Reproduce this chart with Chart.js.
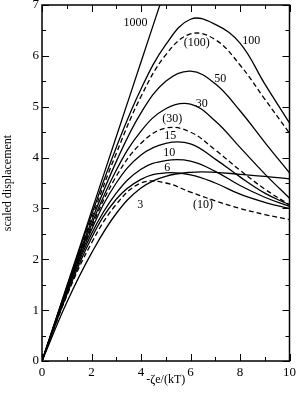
<!DOCTYPE html>
<html>
<head>
<meta charset="utf-8">
<script src="https://cdn.jsdelivr.net/npm/chart.js@4.4.1/dist/chart.umd.min.js"></script>
<style>
  html, body { margin: 0; padding: 0; background: #fff; }
  #wrap { width: 300px; height: 397px; }
</style>
</head>
<body>
<div id="wrap"><canvas id="chart" width="300" height="397"></canvas></div>
<script>
// x axis: -ζe/(kT)
const xs = [0, 1, 2, 3, 4, 5, 6, 7, 8, 9, 10];

// scaled displacement for each curve (solid = full, dashed = in parentheses)
const k1000 = [0, 1.47, 2.94, 4.41, 5.88, 7.35];
const k100 = [0, 1.45, 2.87, 4.2, 5.35, 6.22, 6.72, 6.62, 6.25, 5.45, 4.68];
const k100d = [0, 1.43, 2.8, 4.08, 5.2, 6.02, 6.43, 6.32, 5.82, 5.15, 4.48];
const k50 = [0, 1.42, 2.75, 3.92, 4.88, 5.5, 5.7, 5.45, 4.92, 4.3, 3.7];
const k30 = [0, 1.4, 2.68, 3.75, 4.52, 4.96, 5.05, 4.72, 4.2, 3.68, 3.2];
const k30d = [0, 1.39, 2.63, 3.63, 4.28, 4.58, 4.5, 4.15, 3.75, 3.38, 3.07];
const k15 = [0, 1.37, 2.58, 3.5, 4.05, 4.28, 4.27, 3.97, 3.62, 3.3, 3.07];
const k10 = [0, 1.34, 2.5, 3.3, 3.77, 3.94, 3.93, 3.73, 3.45, 3.22, 3.04];
const k6 = [0, 1.3, 2.42, 3.18, 3.57, 3.7, 3.66, 3.5, 3.28, 3.12, 3.0];
const k10d = [0, 1.28, 2.32, 3.08, 3.5, 3.5, 3.32, 3.15, 3.0, 2.88, 2.78];
const k3 = [0, 1.15, 2.12, 2.9, 3.4, 3.63, 3.71, 3.71, 3.67, 3.63, 3.58];

// curve labels and where they sit (data coords)
const labelText = ['1000', '100', '(100)', '50', '30', '(30)', '15', '10', '6', '3', '(10)'];
const labelX = [3.78, 8.45, 6.25, 7.2, 6.45, 5.26, 5.18, 5.14, 5.06, 3.97, 6.5];
const labelY = [6.65, 6.29, 6.25, 5.54, 5.05, 4.76, 4.42, 4.09, 3.79, 3.07, 3.07];

function pts(ys) {
    return ys.map((y, i) => ({ x: xs[i], y: y }));
}

function curve(ys, dashed) {
    return {
        data: pts(ys),
        borderColor: '#000',
        borderWidth: 1.3,
        borderDash: dashed ? [5, 3] : [],
        pointRadius: 0,
        tension: 0.4,
        fill: false
    };
}

const serif = "'Liberation Serif', 'DejaVu Serif', serif";

// frame, inward ticks on all four sides, and curve labels
const decor = {
    id: 'decor',
    afterDatasetsDraw(chart) {
        const ctx = chart.ctx;
        const a = chart.chartArea;
        const sx = chart.scales.x;
        const sy = chart.scales.y;
        ctx.save();
        ctx.strokeStyle = '#000';
        ctx.lineWidth = 1;
        ctx.beginPath();
        for (let v = 0; v <= 10; v += 1) {
            const px = Math.round(sx.getPixelForValue(v)) + 0.5;
            const len = v % 2 === 0 ? 7 : 4;
            ctx.moveTo(px, a.bottom); ctx.lineTo(px, a.bottom - len);
            ctx.moveTo(px, a.top); ctx.lineTo(px, a.top + len);
        }
        for (let v = 0; v <= 7; v += 0.5) {
            const py = Math.round(sy.getPixelForValue(v)) + 0.5;
            const len = v % 1 === 0 ? 7 : 4;
            ctx.moveTo(a.left, py); ctx.lineTo(a.left + len, py);
            ctx.moveTo(a.right, py); ctx.lineTo(a.right - len, py);
        }
        ctx.stroke();
        ctx.lineWidth = 1.5;
        ctx.strokeRect(a.left, a.top, a.right - a.left, a.bottom - a.top);

        ctx.fillStyle = '#000';
        ctx.font = '12px ' + serif;
        ctx.textAlign = 'center';
        ctx.textBaseline = 'middle';
        labelText.forEach((t, i) => {
            ctx.fillText(t, sx.getPixelForValue(labelX[i]), sy.getPixelForValue(labelY[i]));
        });
        ctx.restore();
    }
};

new Chart(document.getElementById('chart').getContext('2d'), {
    type: 'line',
    data: {
        datasets: [
            curve(k1000), curve(k100), curve(k100d, true), curve(k50),
            curve(k30), curve(k30d, true), curve(k15), curve(k10),
            curve(k6), curve(k10d, true), curve(k3)
        ]
    },
    options: {
        responsive: false,
        animation: false,
        layout: { padding: { left: 0, right: 7, top: 5, bottom: 0 } },
        plugins: { legend: { display: false }, tooltip: { enabled: false } },
        scales: {
            x: {
                type: 'linear',
                min: 0,
                max: 10,
                grid: { display: false, drawTicks: false },
                border: { display: false },
                ticks: { stepSize: 2, color: '#000', padding: 4, font: { family: serif, size: 13 } },
                title: { display: true, text: '-ζe/(kT)', color: '#000', padding: { top: 0, bottom: 10 }, font: { family: serif, size: 12 } },
                afterFit(s) { s.height = 36; s.paddingLeft = 0; }
            },
            y: {
                min: 0,
                max: 7,
                grid: { display: false, drawTicks: false },
                border: { display: false },
                ticks: { stepSize: 1, color: '#000', padding: 3, font: { family: serif, size: 13 } },
                title: { display: true, text: 'scaled displacement', color: '#000', padding: { top: 1, bottom: 0 }, font: { family: serif, size: 12 } },
                afterFit(s) { s.width = 42; s.paddingTop = 0; s.paddingBottom = 0; }
            }
        }
    },
    plugins: [decor]
});
</script>
</body>
</html>
